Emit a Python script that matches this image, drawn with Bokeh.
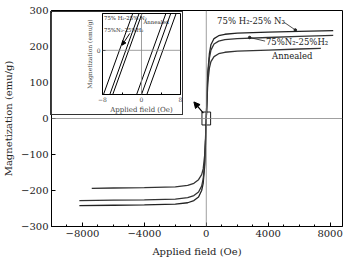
from bokeh.plotting import figure
from bokeh.layouts import column
from bokeh.models import (Span, Arrow, NormalHead, Label, SingleIntervalTicker,
                          FixedTicker)
from bokeh.embed import file_html
from bokeh.resources import INLINE

FONT = "DejaVu Serif"

# ---- main hysteresis curves (one branch; loops are too narrow to separate at this scale)
field_main = [-8200, -6000, -4000, -2000, -1200, -800, -500, -300, -200, -100, -50, 0,
              50, 100, 200, 300, 500, 800, 1200, 2000, 4000, 6000, 8200]
m_h2n2 = [-242, -241, -240, -238, -234, -228, -218, -200, -180, -130, -70, 0,
          70, 130, 180, 205, 222, 230, 234, 237, 240, 242, 244]
m_n2h2 = [-228, -227, -226, -224, -220, -214, -204, -188, -168, -120, -65, 0,
          65, 120, 168, 190, 207, 215, 219, 222, 225, 228, 231]
field_ann = [-7400, -6000, -4000, -2000, -1200, -800, -500, -300, -200, -100, -50, 0,
             50, 100, 200, 300, 500, 800, 1200, 2000, 4000, 6000, 7400]
m_ann = [-194, -193, -192, -190, -186, -180, -170, -156, -140, -100, -54, 0,
         54, 100, 140, 158, 172, 180, 184, 187, 190, 193, 195]

# ---- inset (low-field region): each straight branch as (field at bottom, field at top)
inset_m_bottom = -6.0
inset_m_top = 5.0
inset_field_bottom = [-7.8, -6.5, -5.9, -1.0, 0.0, 1.1]
inset_field_top = [-1.8, -0.5, 0.1, 5.0, 6.0, 7.1]

# zoom marker box around origin in main plot
box_field = [-280, 280]
box_m = [-18, 18]

p = figure(width=346, height=259, x_range=(-10000, 8800), y_range=(-300, 300),
           output_backend="svg", toolbar_location=None,
           min_border_left=46, min_border_right=4, min_border_top=10, min_border_bottom=33)
p.background_fill_color = "white"
p.border_fill_color = "white"
p.outline_line_color = "black"
p.outline_line_width = 1
p.xgrid.visible = False
p.ygrid.visible = False

p.xaxis.ticker = SingleIntervalTicker(interval=4000, num_minor_ticks=4)
p.yaxis.ticker = SingleIntervalTicker(interval=100, num_minor_ticks=0)
for ax in (p.xaxis[0], p.yaxis[0]):
    ax.major_tick_in = 4
    ax.major_tick_out = 0
    ax.minor_tick_in = 2
    ax.minor_tick_out = 0
    ax.axis_line_color = "black"
    ax.major_label_text_font = FONT
    ax.major_label_text_font_size = "10px"
    ax.major_label_text_color = "#222222"
    ax.axis_label_text_font = FONT
    ax.axis_label_text_font_size = "10px"
    ax.axis_label_text_font_style = "normal"
    ax.axis_label_text_color = "#222222"
    ax.major_label_standoff = 3
p.xaxis.axis_label = "Applied field (Oe)"
p.yaxis.axis_label = "Magnetization (emu/g)"
p.xaxis.axis_label_standoff = 6
p.yaxis.axis_label_standoff = 4

p.add_layout(Span(location=0, dimension="height", line_color="#888888", line_width=0.8))
p.add_layout(Span(location=0, dimension="width", line_color="#888888", line_width=0.8))

p.line(field_main, m_h2n2, line_color="#222222", line_width=1.3)
p.line(field_main, m_n2h2, line_color="#333333", line_width=1.3)
p.line(field_ann, m_ann, line_color="#333333", line_width=1.3)

p.quad(left=[box_field[0]], right=[box_field[1]], bottom=[box_m[0]], top=[box_m[1]],
       fill_color=None, line_color="black", line_width=0.9)
p.add_layout(Arrow(end=NormalHead(size=6, fill_color="black", line_color="black"),
                   x_start=-190, y_start=15, x_end=-800, y_end=46,
                   line_color="black", line_width=1.2))

lab_kw = dict(text_font=FONT, text_font_size="8.5px", text_color="#222222")
p.add_layout(Label(x=700, y=272, text="75% H₂-25% N₂", text_baseline="middle", **lab_kw))
p.line([5000, 5750], [268, 246], line_color="#222222", line_width=0.8)
p.scatter([5750], [246], size=2.5, color="#222222")
p.add_layout(Label(x=3850, y=212, text="75%N₂-25%H₂", text_baseline="middle", **lab_kw))
p.line([3800, 2800], [215, 225], line_color="#222222", line_width=0.8)
p.scatter([2800], [225], size=2.5, color="#222222")
p.add_layout(Label(x=4250, y=175, text="Annealed", text_baseline="middle", **lab_kw))

# ---- inset figure
q = figure(width=133, height=104, x_range=(-8, 8), y_range=(inset_m_bottom, inset_m_top),
           output_backend="svg", toolbar_location=None,
           min_border_left=18, min_border_right=1, min_border_top=1, min_border_bottom=18,
           margin=(-248, 0, 0, 50), styles={"border": "1px solid #333"})
q.background_fill_color = "white"
q.border_fill_color = "white"
q.outline_line_color = "black"
q.xgrid.visible = False
q.ygrid.visible = False
q.xaxis.ticker = FixedTicker(ticks=[-8, 0, 8], minor_ticks=[-4, 4])
q.yaxis.ticker = FixedTicker(ticks=[0])
for ax in (q.xaxis[0], q.yaxis[0]):
    ax.major_tick_in = 3
    ax.major_tick_out = 0
    ax.minor_tick_in = 2
    ax.minor_tick_out = 0
    ax.major_label_text_font = FONT
    ax.major_label_text_font_size = "6px"
    ax.axis_label_text_font = FONT
    ax.axis_label_text_font_style = "normal"
    ax.major_label_standoff = 2
    ax.axis_label_standoff = 1
q.xaxis.axis_label = "Applied field (Oe)"
q.yaxis.axis_label = "Magnetization (emu/g)"
q.xaxis.axis_label_text_font_size = "7px"
q.yaxis.axis_label_text_font_size = "6px"

q.add_layout(Span(location=0, dimension="height", line_color="#888888", line_width=0.8))
q.add_layout(Span(location=0, dimension="width", line_color="#888888", line_width=0.8))

xs = [[b, t] for b, t in zip(inset_field_bottom, inset_field_top)]
ys = [[inset_m_bottom, inset_m_top] for _ in inset_field_bottom]
q.multi_line(xs, ys, line_color="black", line_width=1)

ilab = dict(text_font=FONT, text_font_size="5.4px", text_color="#222222")
q.add_layout(Label(x=-7.7, y=4.35, text="75% H₂-25% N₂", text_baseline="middle", **ilab))
q.add_layout(Label(x=-7.7, y=2.7, text="75%N₂-25%H₂", text_baseline="middle", **ilab))
q.add_layout(Label(x=0.4, y=3.85, text="Annealed", text_baseline="middle", **ilab))
q.add_layout(Arrow(end=NormalHead(size=4, fill_color="black", line_color="black"),
                   x_start=-2.4, y_start=2.3, x_end=-4.0, y_end=0.7,
                   line_color="black", line_width=1))

layout = column(p, q)
open("out.html", "w").write(file_html(layout, INLINE))
